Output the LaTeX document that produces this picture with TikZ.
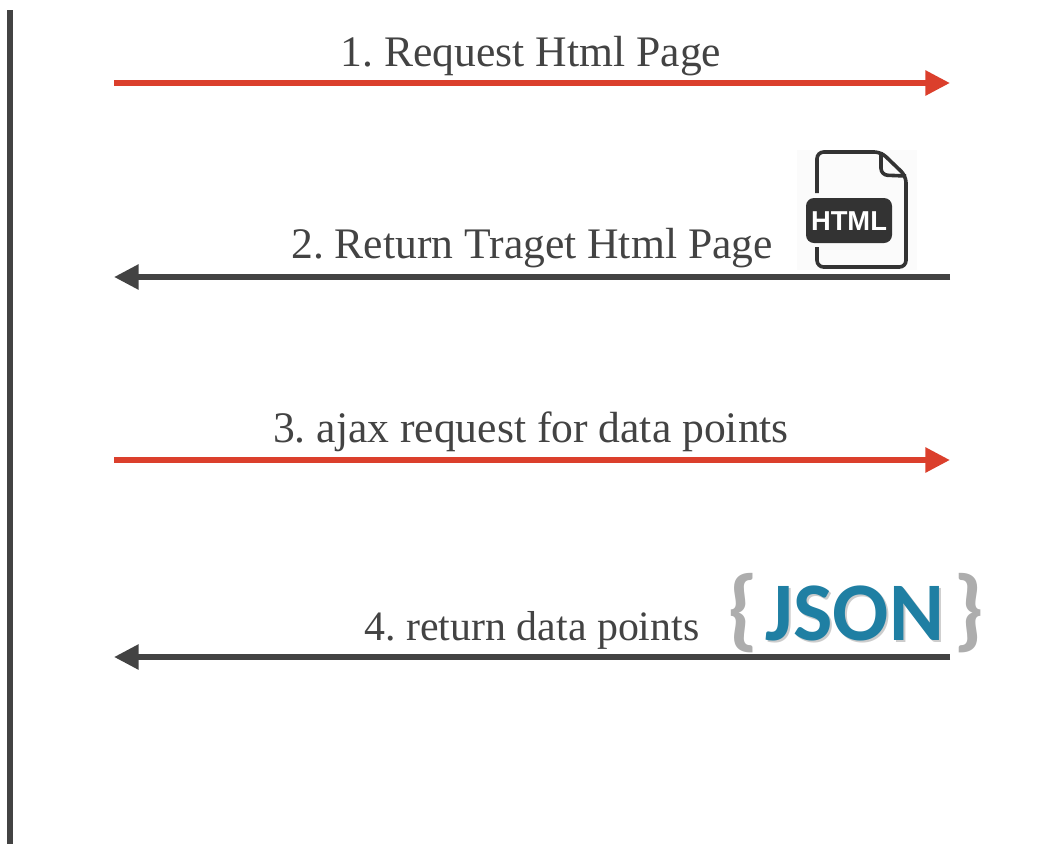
\documentclass[tikz,border=0pt]{standalone}
\usepackage{fontspec}
\setmainfont{Liberation Serif}
\newfontfamily\htmlfont{Liberation Sans}
\newfontfamily\jsonfont{Carlito}
\usetikzlibrary{arrows.meta}
\definecolor{linegray}{HTML}{434343}
\definecolor{filegray}{HTML}{333333}
\definecolor{linered}{HTML}{DB3F2C}
\definecolor{jsonblue}{HTML}{1F7FA3}
\definecolor{bracegray}{HTML}{ADADAD}
\tikzset{
    msg/.style={line width=4.3pt,-{Triangle[length=18.5pt,width=18pt]}},
    msgtext/.style={anchor=base,inner sep=0pt,text=linegray,font=\frenchspacing\fontsize{32.7}{33}\selectfont},
    filepen/.style={draw=filegray,line width=2.7pt,rounded corners=5pt},
    jsontextstyle/.style={anchor=base,inner sep=0pt,font=\jsonfont\bfseries\fontsize{62.5}{63}\selectfont},
    bracestyle/.style={anchor=base,inner sep=0pt,text=bracegray,font=\jsonfont\bfseries\fontsize{68}{68}\selectfont}
}
\begin{document}
\begin{tikzpicture}[x=0.75pt,y=-0.75pt]
    \useasboundingbox (0,0) rectangle (1045,844);
    \coordinate (lifetop) at (10,10);
    \coordinate (lifebot) at (10,844);
    \draw[color=linegray,line width=4.2pt] (lifetop) -- (lifebot);

    \coordinate (reqa) at (114,83);
    \coordinate (reqb) at (950,83);
    \coordinate (pagea) at (950,277);
    \coordinate (pageb) at (114,277);
    \coordinate (ajaxa) at (114,460);
    \coordinate (ajaxb) at (950,460);
    \coordinate (dataa) at (950,657);
    \coordinate (datab) at (114,657);
    \draw[msg,color=linered] (reqa) -- (reqb);
    \draw[msg,color=linegray] (pagea) -- (pageb);
    \draw[msg,color=linered] (ajaxa) -- (ajaxb);
    \draw[msg,color=linegray] (dataa) -- (datab);

    \node[msgtext] (reqtext) at (531,66) {1. Request Html Page};
    \node[msgtext] (pagetext) at (532,258) {2. Return Traget Html Page};
    \node[msgtext] (ajaxtext) at (531,442) {3. ajax request for data points};
    \node[msgtext,font=\frenchspacing\fontsize{31.4}{33}\selectfont] (datatext) at (532,640) {4. return data points};

    \fill[color=black!1.5] (797,150) rectangle (917,270);
    \draw[filepen] (817,193) -- (817,152) -- (881,152) -- (906,176) -- (906,267) -- (817,267) -- (817,247);
    \draw[filepen] (881,152) -- (881,175) -- (906,176);
    \fill[color=filegray,rounded corners=6pt] (806,198) rectangle (892,243);
    \node[inner sep=0pt,text=white,font=\htmlfont\bfseries\fontsize{20.5}{21}\selectfont] (htmltext) at (849,221) {HTML};

    \node[jsontextstyle,text=black!20] (jsonshade) at (857,642) {JSON};
    \node[jsontextstyle,text=jsonblue] (jsontext) at (855,640) {JSON};
    \node[bracestyle] (bracel) at (743,639) {\{};
    \node[bracestyle] (bracer) at (969,639) {\}};
\end{tikzpicture}
\end{document}
